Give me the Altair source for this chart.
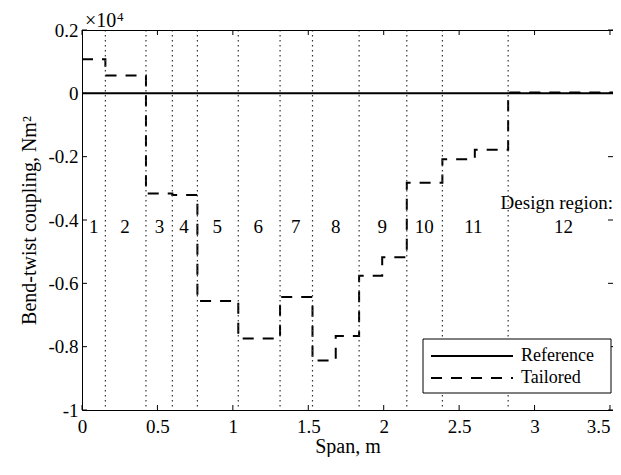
import altair as alt
import pandas as pd

# ---------------- data ----------------
step_x = [0.0, 0.155, 0.424, 0.599, 0.765, 1.036, 1.313, 1.528, 1.682, 1.837,
          1.990, 2.153, 2.389, 2.604, 2.825, 3.535]
step_y = [0.108, 0.056, -0.316, -0.321, -0.656, -0.774, -0.643, -0.844, -0.766,
          -0.576, -0.518, -0.282, -0.208, -0.178, 0.003, 0.003]
ref_x = [0.0, 3.535]
ref_y = [0.0, 0.0]
region_bounds = [0.155, 0.424, 0.599, 0.765, 1.036, 1.313, 1.528, 1.837,
                 2.153, 2.389, 2.825]
region_names = ["1", "2", "3", "4", "5", "6", "7", "8", "9", "10", "11", "12"]
region_x = [0.078, 0.285, 0.513, 0.676, 0.897, 1.169, 1.417, 1.682, 1.991,
            2.268, 2.595, 3.192]
x_ticks = [0, 0.5, 1, 1.5, 2, 2.5, 3, 3.5]
y_ticks = [-1, -0.8, -0.6, -0.4, -0.2, 0, 0.2]
series = ["Reference", "Tailored"]
series_dash = [[1, 0], [11, 9]]

# ---------------- layout ----------------
W, H = 531, 380
X_MAX = 3.52
FONT = "Liberation Serif"
TICK = 5

xs = alt.Scale(domain=[0, X_MAX], nice=False, zero=False)
ys = alt.Scale(domain=[-1, 0.2], nice=False, zero=False)
x_axis = alt.Axis(values=x_ticks, labelExpr="datum.value", title="Span, m",
                  labelPadding=7, titlePadding=0,
                  labelAlign={"expr": "datum.value >= 3.5 ? 'right' : 'center'"})
y_axis = alt.Axis(values=y_ticks, labelExpr="datum.value",
                  title="Bend-twist coupling, Nm²", labelPadding=4, titlePadding=8)

lines_df = pd.DataFrame({
    "span": ref_x + step_x,
    "value": ref_y + step_y,
    "series": [series[0]] * len(ref_x) + [series[1]] * len(step_x),
})

lines = alt.Chart(lines_df).mark_line(
    interpolate="step-after", strokeWidth=2, color="black", clip=True
).encode(
    x=alt.X("span:Q", scale=xs, axis=x_axis),
    y=alt.Y("value:Q", scale=ys, axis=y_axis),
    strokeDash=alt.StrokeDash("series:N",
                              scale=alt.Scale(domain=series, range=series_dash),
                              legend=None),
)

bounds_df = pd.DataFrame({"b": region_bounds})
dots = alt.Chart(bounds_df).mark_rule(
    color="#333333", strokeWidth=1.2, strokeDash=[1.5, 3.5]
).encode(
    x=alt.X("b:Q", scale=xs, axis=x_axis),
    y=alt.value(0), y2=alt.value(H),
)

labels_df = pd.DataFrame({"lx": region_x, "name": region_names})
region_text = alt.Chart(labels_df).mark_text(
    font=FONT, fontSize=19, color="black", align="center", baseline="alphabetic"
).encode(
    x=alt.X("lx:Q", scale=xs, axis=x_axis),
    y=alt.YDatum(-0.44, scale=ys, axis=y_axis),
    text="name:N",
)

design_text = alt.Chart(pd.DataFrame({"t": ["Design region:"]})).mark_text(
    font=FONT, fontSize=19, color="black", align="right", baseline="alphabetic"
).encode(
    x=alt.XDatum(X_MAX, scale=xs, axis=x_axis),
    y=alt.YDatum(-0.366, scale=ys, axis=y_axis),
    text="t:N",
)

mult_text = alt.Chart(pd.DataFrame({"t": ["×10"]})).mark_text(
    font=FONT, fontSize=20, color="black", align="left", baseline="alphabetic",
    dx=3, dy=-3,
).encode(
    x=alt.XDatum(0, scale=xs, axis=x_axis),
    y=alt.YDatum(0.2, scale=ys, axis=y_axis),
    text="t:N",
)
exp_text = alt.Chart(pd.DataFrame({"t": ["4"]})).mark_text(
    font=FONT, fontSize=13, color="black", align="left", baseline="alphabetic",
    dx=35, dy=-9,
).encode(
    x=alt.XDatum(0, scale=xs, axis=x_axis),
    y=alt.YDatum(0.2, scale=ys, axis=y_axis),
    text="t:N",
)

xt_df = pd.DataFrame({"t": x_ticks})
yt_df = pd.DataFrame({"t": y_ticks})
xt_bottom = alt.Chart(xt_df).mark_rule(color="black", strokeWidth=1).encode(
    x=alt.X("t:Q", scale=xs, axis=x_axis), y=alt.value(H), y2=alt.value(H - TICK))
xt_top = alt.Chart(xt_df).mark_rule(color="black", strokeWidth=1).encode(
    x=alt.X("t:Q", scale=xs, axis=x_axis), y=alt.value(0), y2=alt.value(TICK))
yt_left = alt.Chart(yt_df).mark_rule(color="black", strokeWidth=1).encode(
    y=alt.Y("t:Q", scale=ys, axis=y_axis), x=alt.value(0), x2=alt.value(TICK))
yt_right = alt.Chart(yt_df).mark_rule(color="black", strokeWidth=1).encode(
    y=alt.Y("t:Q", scale=ys, axis=y_axis), x=alt.value(W), x2=alt.value(W - TICK))
top_border = alt.Chart(pd.DataFrame({"t": [0]})).mark_rule(
    color="black", strokeWidth=1
).encode(x=alt.value(0), x2=alt.value(W), y=alt.value(0.5))

# ---------------- legend (drawn as a box with samples) ----------------
LX0, LX1 = 341, 529
LY1 = H - 17
LY0 = LY1 - 54
ROW_Y = [LY0 + 17, LY0 + 39]
leg_box = alt.Chart(pd.DataFrame({"t": [0]})).mark_rect(
    fill="white", stroke="black", strokeWidth=1
).encode(x=alt.value(LX0), x2=alt.value(LX1), y=alt.value(LY0), y2=alt.value(LY1))
leg_layers = [leg_box]
for name, dash, ry in zip(series, series_dash, ROW_Y):
    leg_layers.append(
        alt.Chart(pd.DataFrame({"t": [name]})).mark_rule(
            color="black", strokeWidth=2, strokeDash=dash
        ).encode(x=alt.value(349), x2=alt.value(431), y=alt.value(ry))
    )
    leg_layers.append(
        alt.Chart(pd.DataFrame({"t": [name]})).mark_text(
            font=FONT, fontSize=18, color="black", align="left", baseline="middle"
        ).encode(x=alt.value(439), y=alt.value(ry), text="t:N")
    )

chart = alt.layer(
    lines, dots, region_text, design_text, mult_text, exp_text,
    xt_bottom, xt_top, yt_left, yt_right, top_border, *leg_layers,
).properties(
    width=W, height=H,
    autosize=alt.AutoSizeParams(type="none"),
    padding={"left": 74, "top": 22, "right": 0, "bottom": 47},
    background="white",
).configure_view(
    strokeWidth=0
).configure_axis(
    domain=True, domainColor="black", domainWidth=1, ticks=False, grid=False,
    labelFont=FONT, labelFontSize=19, labelColor="black",
    titleFont=FONT, titleFontSize=20, titleFontWeight="normal", titleColor="black",
)

chart.save("out.html", embed_options={"renderer": "svg", "actions": False})
